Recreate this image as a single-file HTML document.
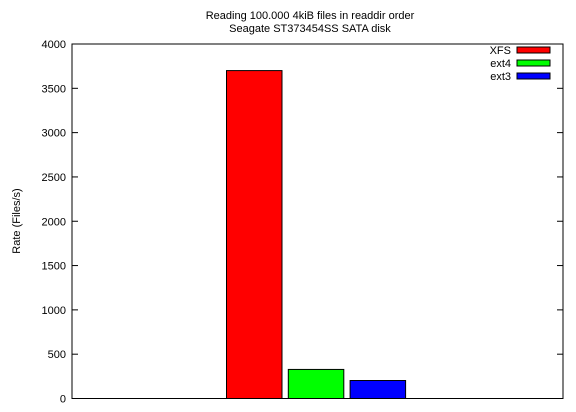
<!DOCTYPE html>
<html><head><meta charset="utf-8"><style>
body{margin:0;background:#fff;}
svg{display:block;font-family:"Liberation Sans",sans-serif;}
</style></head><body>
<svg id="chart" width="576" height="412">
<text x="310" y="19" font-size="11" text-anchor="middle">Reading 100.000 4kiB files in readdir order</text>
<text x="310" y="32" font-size="11" text-anchor="middle">Seagate ST373454SS SATA disk</text>
<text transform="translate(20,221) rotate(-90)" font-size="11" text-anchor="middle">Rate (Files/s)</text>
<g id="axes"></g><g id="bars"></g><g id="legend"></g>
</svg>
<script>
const categories=["XFS","ext4","ext3"];
const values=[3700,328,203];
const colors=["#ff0000","#00ff00","#0000ff"];
const yTicks=[0,500,1000,1500,2000,2500,3000,3500,4000];
const NS="http://www.w3.org/2000/svg";
const L=72,R=563,T=44,B=398.5,YMAX=4000;
const y=v=>B-(v/YMAX)*(B-T);
const barX=i=>226.5+i*61.8;
const BW=55.5;
function mk(tag,attrs,parent){const e=document.createElementNS(NS,tag);for(const k in attrs)e.setAttribute(k,attrs[k]);parent.appendChild(e);return e;}
const axes=document.getElementById('axes');
const frame=mk('rect',{x:L,y:T,width:R-L,height:B-T,fill:'none',stroke:'#000','stroke-width':1},axes);


yTicks.forEach(t=>{
 const yy=y(t);
 const l1=mk('line',{x1:L,x2:L+6,y1:yy,y2:yy,stroke:'#000'},axes);
 
 
 const l2=mk('line',{x1:R-6,x2:R,y1:yy,y2:yy,stroke:'#000'},axes);
 
 
 const tx=mk('text',{x:L-6,y:yy+4,'font-size':11,'text-anchor':'end'},axes);
 tx.textContent=t;
 
 
});
const bars=document.getElementById('bars');
values.forEach((v,i)=>{
 const r=mk('rect',{x:barX(i),y:y(v),width:BW,height:B-y(v),fill:colors[i],stroke:'#000','stroke-width':1},bars);
 
 
});
const lg=document.getElementById('legend');
categories.forEach((c,i)=>{
 const yy=50+i*13;
 const t=mk('text',{x:511,y:yy+4,'font-size':11,'text-anchor':'end'},lg);
 t.textContent=c;
 
 
 const s=mk('rect',{x:517,y:yy-3,width:33,height:6,fill:colors[i],stroke:'#000','stroke-width':1},lg);
 
 
});
</script>
</body></html>
